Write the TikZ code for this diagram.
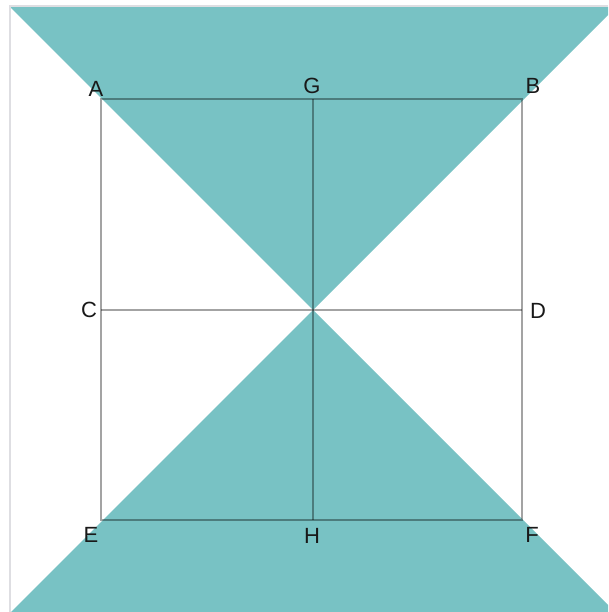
\documentclass[tikz,border=0pt]{standalone}
\usepackage{fontspec}
\setmainfont{Liberation Sans}
\definecolor{teal1}{RGB}{120,194,196}
\definecolor{frame1}{RGB}{222,222,226}
\tikzset{
  sq/.style={draw=black, draw opacity=0.36, line width=1.4pt},
  lab/.style={font=\fontsize{22}{22}\selectfont, text=black!90, inner sep=0pt},
}
\begin{document}
\begin{tikzpicture}[x=1pt,y=-1pt]
\useasboundingbox (0,0) rectangle (608,612);
\fill[white] (0,0) rectangle (608,612);
% hourglass fill
\fill[teal1] (10,7) -- (608,7) -- (608,15) -- (313,310) -- cycle;
\fill[teal1] (313,310) -- (608,605) -- (608,612) -- (11,612) -- cycle;
% screenshot frame
\draw[frame1, line width=1.2pt] (10,612) -- (10,6) -- (608,6);
% points
\coordinate (A) at (101,99);
\coordinate (B) at (522,99);
\coordinate (C) at (101,310);
\coordinate (D) at (522,310);
\coordinate (E) at (101,520);
\coordinate (F) at (522,520);
\coordinate (G) at (313,99);
\coordinate (H) at (313,520);
% lines
\draw[sq] (A) -- (B) -- (F) -- (E) -- cycle;
\draw[sq] (G) -- (H);
\draw[sq] (C) -- (D);
% labels
\node[lab] (lA) at (96,89) {A};
\node[lab] (lG) at (312,86) {G};
\node[lab] (lB) at (533,86) {B};
\node[lab] (lC) at (89,310) {C};
\node[lab] (lD) at (538,311) {D};
\node[lab] (lE) at (91,535) {E};
\node[lab] (lH) at (312,536) {H};
\node[lab] (lF) at (532,535) {F};
\end{tikzpicture}
\end{document}
